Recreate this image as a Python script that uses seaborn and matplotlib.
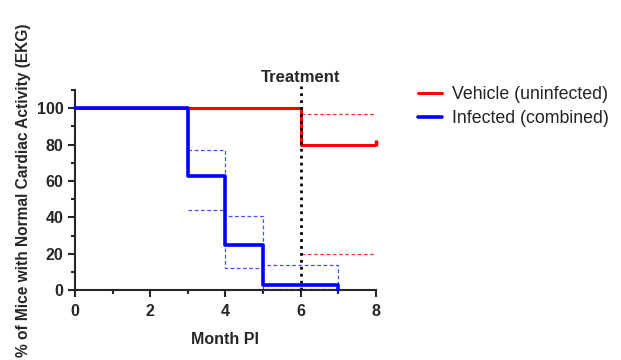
import matplotlib
matplotlib.use('Agg')
import matplotlib.pyplot as plt
from matplotlib.ticker import MultipleLocator
import seaborn as sns

# survival curves (% of mice with normal EKG)
vehicle_months = [0, 6, 8]
vehicle_pct = [100, 80, 80]
vehicle_ci_months = [6, 8]
vehicle_ci_upper = [97, 97]
vehicle_ci_lower = [20, 20]

infected_months = [0, 3, 4, 5, 7]
infected_pct = [100, 62.5, 25, 3, 0]
infected_ci_months = [3, 4, 5, 7]
infected_ci_upper = [77, 41, 14, 0]
infected_ci_lower = [44, 12, 0.5, 0.5]

treatment_month = 6
x_ticks = [0, 2, 4, 6, 8]
y_ticks = [0, 20, 40, 60, 80, 100]

sns.set_style('ticks')
plt.rcParams['font.family'] = ['Liberation Sans', 'DejaVu Sans']

fig = plt.figure(figsize=(6.21, 3.6), dpi=100)
ax = fig.add_axes([0.121, 0.194, 0.484, 0.556])

red = '#ff0000'
blue = '#0000ff'

# confidence bands (dashed)
sns.lineplot(x=vehicle_ci_months, y=vehicle_ci_upper, color=red, lw=0.9, ls=(0, (3, 2)),
             alpha=0.8, drawstyle='steps-post', estimator=None, sort=False, ax=ax)
sns.lineplot(x=vehicle_ci_months, y=vehicle_ci_lower, color=red, lw=0.9, ls=(0, (3, 2)),
             alpha=0.8, drawstyle='steps-post', estimator=None, sort=False, ax=ax)
sns.lineplot(x=infected_ci_months, y=infected_ci_upper, color=blue, lw=0.9, ls=(0, (3, 2)),
             alpha=0.7, drawstyle='steps-post', estimator=None, sort=False, ax=ax)
sns.lineplot(x=infected_ci_months, y=infected_ci_lower, color=blue, lw=0.9, ls=(0, (3, 2)),
             alpha=0.7, drawstyle='steps-post', estimator=None, sort=False, ax=ax)

# treatment line
ax.axvline(treatment_month, ymin=0, ymax=1.02, color='black', lw=2, ls=(0, (1, 1.5)),
           clip_on=False, zorder=5)
ax.text(treatment_month, 113, 'Treatment', ha='center', va='bottom',
        fontsize=12, fontweight='bold')

# main curves
sns.lineplot(x=vehicle_months, y=vehicle_pct, color=red, lw=2.2, drawstyle='steps-post',
             estimator=None, sort=False, ax=ax, label='Vehicle (uninfected)', legend=False,
             zorder=4)
ax.plot(vehicle_months[-1:], [vehicle_pct[-1] + 1], marker='|', ms=4, mew=2.5, color=red,
        clip_on=False, zorder=4)
sns.lineplot(x=infected_months, y=infected_pct, color=blue, lw=2.6, drawstyle='steps-post',
             estimator=None, sort=False, ax=ax, label='Infected (combined)', legend=False,
             zorder=6, clip_on=False)

ax.set_xlim(0, 8)
ax.set_ylim(0, 110)
ax.set_xticks(x_ticks)
ax.set_yticks(y_ticks)
ax.xaxis.set_minor_locator(MultipleLocator(1))
ax.yaxis.set_minor_locator(MultipleLocator(10))
ax.tick_params(which='major', length=5, width=1.5, labelsize=11.5)
ax.tick_params(axis='x', which='major', pad=5)
ax.tick_params(which='minor', length=3, width=1.5)
for lab in ax.get_xticklabels() + ax.get_yticklabels():
    lab.set_fontweight('bold')
for s in ['left', 'bottom']:
    ax.spines[s].set_linewidth(1.5)
sns.despine(ax=ax)

ax.set_xlabel('Month PI', fontsize=11.5, fontweight='bold', labelpad=9)
ax.set_ylabel('% of Mice with Normal Cardiac Activity (EKG)', fontsize=11.2,
              fontweight='bold', labelpad=4)

handles, labels = ax.get_legend_handles_labels()
fig.legend(handles, labels, loc='upper left', bbox_to_anchor=(0.648, 0.805), frameon=False,
           fontsize=12.8, handlelength=1.3, handletextpad=0.6, labelspacing=0.4,
           labelcolor='#222222')

fig.savefig('out.png', dpi=100)
